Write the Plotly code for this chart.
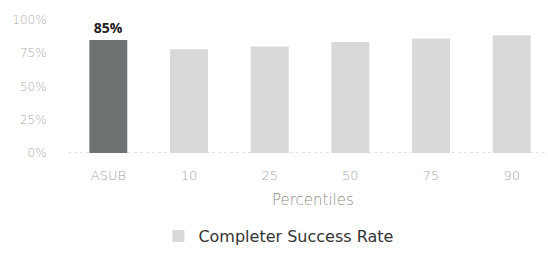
import plotly.graph_objects as go

categories = ["ASUB", "10", "25", "50", "75", "90"]
asub_value = [0.85]
percentile_values = [0.78, 0.80, 0.835, 0.86, 0.885]
asub_label = ["85%"]
y_ticks = [0, 0.25, 0.5, 0.75, 1.0]
y_tick_labels = ["0%", "25%", "50%", "75%", "100%"]

LIGHT = "DejaVu Sans"

fig = go.Figure()
fig.add_trace(go.Bar(
    x=categories[:1], y=asub_value, width=0.47,
    marker=dict(color="#6f7272", line=dict(width=0)),
    text=asub_label, textposition="outside",
    textfont=dict(family="Open Sans", size=14, color="#222", weight="bold"),
    cliponaxis=False, showlegend=False,
))
fig.add_trace(go.Bar(
    x=categories[1:], y=percentile_values, width=0.47,
    marker=dict(color="#d9d9d9", line=dict(width=0)),
    name="Completer Success Rate", showlegend=True,
))

fig.add_shape(type="line", xref="paper", yref="y", x0=0, x1=0.995, y0=0, y1=0,
              line=dict(color="#c8c8c8", width=1, dash="dot"), layer="below")

fig.add_annotation(text="Percentiles", xref="paper", yref="paper", x=0.51, y=-0.355,
                   showarrow=False, xanchor="center", yanchor="middle",
                   font=dict(family=LIGHT, size=15, color="#8a8a8a", weight=300))

fig.update_layout(
    width=548, height=254,
    margin=dict(l=68, r=0, t=20, b=101, autoexpand=False),
    paper_bgcolor="white", plot_bgcolor="white",
    barmode="overlay",
    font=dict(family=LIGHT, color="#9a9a9a"),
    xaxis=dict(type="category", range=[-0.5, 5.45], showgrid=False, zeroline=False,
               showline=False, ticks="outside", ticklen=10, tickcolor="rgba(0,0,0,0)",
               automargin=False,
               tickfont=dict(family=LIGHT, size=13, color="#a6a6a6", weight=300)),
    yaxis=dict(range=[0, 1.0], tickvals=y_ticks, ticktext=y_tick_labels,
               showgrid=False, zeroline=False, showline=False, automargin=False,
               ticks="outside", ticklen=18, tickcolor="rgba(0,0,0,0)",
               tickfont=dict(family=LIGHT, size=12, color="#acacac", weight=300)),
    legend=dict(orientation="h", xref="container", yref="container",
                x=0.508, y=0.07, xanchor="center", yanchor="middle",
                font=dict(family=LIGHT, size=16, color="#333")),
)

fig.write_html("out.html", config={"displayModeBar": False},
               post_script="document.body.style.margin='0';document.body.style.overflow='hidden';")
